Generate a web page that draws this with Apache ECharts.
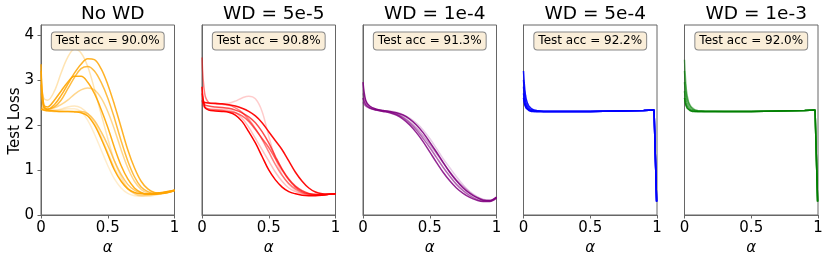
<!DOCTYPE html>
<html>
<head>
<meta charset="utf-8">
<script src="https://cdn.jsdelivr.net/npm/echarts@6/dist/echarts.min.js"></script>
<style>html,body{margin:0;padding:0;background:#fff}#c{width:830px;height:262px}</style>
</head>
<body>
<div id="c"></div>
<script>
// ---- data ----
const panelTitles = ["No WD", "WD = 5e-5", "WD = 1e-4", "WD = 5e-4", "WD = 1e-3"];
const testAcc = ["Test acc = 90.0%", "Test acc = 90.8%", "Test acc = 91.3%", "Test acc = 92.2%", "Test acc = 92.0%"];
const xTicks = [0, 0.5, 1];
const yTicks = [0, 1, 2, 3, 4];

// alpha grid for smooth panels
const alphaA = [0, 0.02, 0.05, 0.1, 0.15, 0.2, 0.25, 0.3, 0.35, 0.4, 0.45, 0.5, 0.55, 0.6, 0.65, 0.7, 0.75, 0.8, 0.85, 0.9, 0.95, 1.0];
// alpha grid for the sharp panels
const alphaB = [0, 0.005, 0.01, 0.015, 0.02, 0.03, 0.04, 0.05, 0.06, 0.08, 0.1, 0.15, 0.3, 0.5, 0.7, 0.9, 0.978, 0.997];

// No WD (orange)
const noWD_1 = [3.0, 2.6, 2.55, 2.75, 3.15, 3.5, 3.68, 3.6, 3.3, 2.8, 2.25, 1.7, 1.2, 0.85, 0.6, 0.47, 0.42, 0.42, 0.44, 0.47, 0.5, 0.53];
const noWD_2 = [2.9, 2.4, 2.35, 2.45, 2.65, 2.9, 3.15, 3.35, 3.47, 3.45, 3.25, 2.9, 2.45, 1.95, 1.45, 1.05, 0.75, 0.58, 0.5, 0.48, 0.5, 0.55];
const noWD_3 = [3.2, 2.45, 2.35, 2.4, 2.55, 2.8, 3.05, 3.25, 3.3, 3.2, 2.95, 2.6, 2.15, 1.65, 1.2, 0.85, 0.62, 0.52, 0.48, 0.48, 0.5, 0.55];
const noWD_4 = [3.35, 2.45, 2.4, 2.55, 2.75, 2.95, 3.08, 3.08, 2.95, 2.7, 2.35, 1.95, 1.5, 1.1, 0.8, 0.6, 0.5, 0.46, 0.46, 0.48, 0.51, 0.55];
const noWD_5 = [2.7, 2.4, 2.35, 2.38, 2.45, 2.55, 2.68, 2.78, 2.82, 2.78, 2.6, 2.3, 1.9, 1.45, 1.05, 0.75, 0.57, 0.49, 0.47, 0.48, 0.5, 0.54];
const noWD_6 = [2.35, 2.33, 2.32, 2.31, 2.3, 2.3, 2.29, 2.27, 2.2, 2.0, 1.7, 1.35, 1.0, 0.75, 0.58, 0.5, 0.47, 0.47, 0.48, 0.5, 0.52, 0.55];
const noWD_7 = [2.5, 2.35, 2.33, 2.33, 2.35, 2.4, 2.42, 2.38, 2.25, 2.05, 1.75, 1.4, 1.05, 0.78, 0.58, 0.48, 0.44, 0.44, 0.46, 0.49, 0.51, 0.54];
const noWD_8 = [2.4, 2.33, 2.31, 2.3, 2.3, 2.3, 2.3, 2.3, 2.25, 2.1, 1.85, 1.55, 1.2, 0.9, 0.68, 0.55, 0.48, 0.46, 0.47, 0.49, 0.52, 0.55];
const noWD_9 = [2.45, 2.35, 2.33, 2.32, 2.33, 2.36, 2.36, 2.3, 2.1, 1.8, 1.45, 1.1, 0.8, 0.6, 0.48, 0.43, 0.42, 0.44, 0.46, 0.49, 0.51, 0.54];

// WD = 5e-5 (red)
const wd5e5_1 = [2.85, 2.4, 2.33, 2.31, 2.3, 2.28, 2.22, 2.08, 1.85, 1.6, 1.3, 1.0, 0.78, 0.62, 0.52, 0.47, 0.44, 0.43, 0.43, 0.44, 0.46, 0.47];
const wd5e5_2 = [2.5, 2.5, 2.49, 2.48, 2.47, 2.45, 2.42, 2.37, 2.3, 2.2, 2.05, 1.85, 1.65, 1.45, 1.2, 0.95, 0.75, 0.6, 0.51, 0.47, 0.46, 0.47];
const wd5e5_3 = [2.6, 2.5, 2.48, 2.47, 2.47, 2.48, 2.53, 2.6, 2.64, 2.58, 2.3, 1.75, 1.25, 0.9, 0.68, 0.55, 0.48, 0.45, 0.44, 0.45, 0.46, 0.47];
const wd5e5_4 = [3.5, 2.7, 2.5, 2.47, 2.46, 2.44, 2.38, 2.28, 2.12, 1.92, 1.68, 1.4, 1.12, 0.88, 0.7, 0.58, 0.5, 0.46, 0.45, 0.45, 0.46, 0.47];
const wd5e5_5 = [2.55, 2.4, 2.35, 2.33, 2.32, 2.3, 2.27, 2.2, 2.08, 1.9, 1.7, 1.5, 1.25, 1.0, 0.78, 0.62, 0.52, 0.47, 0.45, 0.45, 0.46, 0.47];
const wd5e5_6 = [2.45, 2.38, 2.36, 2.35, 2.35, 2.33, 2.28, 2.15, 1.95, 1.7, 1.45, 1.2, 0.95, 0.75, 0.6, 0.52, 0.47, 0.45, 0.44, 0.45, 0.46, 0.47];
const wd5e5_7 = [2.7, 2.45, 2.42, 2.4, 2.39, 2.37, 2.33, 2.27, 2.18, 2.05, 1.85, 1.6, 1.3, 1.02, 0.8, 0.64, 0.54, 0.48, 0.46, 0.45, 0.46, 0.47];

// WD = 1e-4 (purple)
const wd1e4_1 = [2.95, 2.55, 2.42, 2.35, 2.32, 2.3, 2.27, 2.22, 2.13, 2.0, 1.83, 1.62, 1.4, 1.17, 0.95, 0.76, 0.6, 0.48, 0.39, 0.33, 0.32, 0.4];
const wd1e4_2 = [2.6, 2.45, 2.38, 2.33, 2.3, 2.27, 2.22, 2.13, 2.0, 1.83, 1.63, 1.4, 1.17, 0.95, 0.76, 0.6, 0.48, 0.39, 0.33, 0.3, 0.3, 0.38];
const wd1e4_3 = [2.7, 2.5, 2.4, 2.34, 2.31, 2.29, 2.25, 2.18, 2.07, 1.93, 1.76, 1.57, 1.37, 1.16, 0.96, 0.78, 0.63, 0.5, 0.4, 0.34, 0.32, 0.39];
const wd1e4_4 = [2.5, 2.42, 2.37, 2.33, 2.31, 2.29, 2.24, 2.16, 2.04, 1.89, 1.7, 1.5, 1.28, 1.06, 0.86, 0.68, 0.54, 0.43, 0.35, 0.31, 0.31, 0.39];
const wd1e4_5 = [2.8, 2.52, 2.41, 2.35, 2.32, 2.31, 2.28, 2.23, 2.15, 2.04, 1.89, 1.7, 1.48, 1.25, 1.05, 0.85, 0.67, 0.52, 0.42, 0.35, 0.33, 0.4];

// WD = 5e-4 (blue)
const wd5e4_1 = [3.2, 2.95, 2.78, 2.66, 2.58, 2.48, 2.42, 2.38, 2.36, 2.33, 2.32, 2.3, 2.3, 2.3, 2.31, 2.32, 2.33, 0.3];
const wd5e4_2 = [3.0, 2.8, 2.66, 2.56, 2.5, 2.42, 2.38, 2.35, 2.34, 2.32, 2.31, 2.3, 2.3, 2.3, 2.31, 2.32, 2.33, 0.3];
const wd5e4_3 = [2.85, 2.68, 2.57, 2.49, 2.44, 2.38, 2.35, 2.33, 2.32, 2.31, 2.3, 2.3, 2.3, 2.3, 2.31, 2.32, 2.33, 0.3];
const wd5e4_4 = [2.7, 2.58, 2.5, 2.44, 2.4, 2.36, 2.33, 2.32, 2.31, 2.3, 2.3, 2.3, 2.3, 2.3, 2.31, 2.32, 2.33, 0.3];
const wd5e4_5 = [2.6, 2.5, 2.44, 2.4, 2.37, 2.34, 2.32, 2.31, 2.3, 2.3, 2.3, 2.3, 2.3, 2.3, 2.31, 2.32, 2.33, 0.3];

// WD = 1e-3 (green)
const wd1e3_1 = [3.45, 3.15, 2.92, 2.76, 2.65, 2.52, 2.45, 2.4, 2.37, 2.33, 2.32, 2.31, 2.3, 2.3, 2.31, 2.32, 2.33, 0.3];
const wd1e3_2 = [3.2, 2.95, 2.78, 2.66, 2.58, 2.48, 2.42, 2.38, 2.35, 2.33, 2.31, 2.3, 2.3, 2.3, 2.31, 2.32, 2.33, 0.3];
const wd1e3_3 = [2.95, 2.76, 2.63, 2.54, 2.48, 2.41, 2.37, 2.34, 2.33, 2.31, 2.3, 2.3, 2.3, 2.3, 2.31, 2.32, 2.33, 0.3];
const wd1e3_4 = [2.75, 2.6, 2.5, 2.44, 2.4, 2.36, 2.33, 2.32, 2.31, 2.3, 2.3, 2.3, 2.3, 2.3, 2.31, 2.32, 2.33, 0.3];
const wd1e3_5 = [2.6, 2.5, 2.44, 2.4, 2.37, 2.34, 2.32, 2.31, 2.3, 2.3, 2.3, 2.3, 2.3, 2.3, 2.31, 2.32, 2.33, 0.3];

// ---- panels ----
const panels = [
  { color: '#FFA500', xs: alphaA, smooth: true,
    lines: [[noWD_1, 0.3], [noWD_2, 0.85], [noWD_3, 0.75], [noWD_4, 0.9], [noWD_5, 0.45], [noWD_6, 0.95], [noWD_7, 0.25], [noWD_8, 0.6], [noWD_9, 0.2]] },
  { color: '#FF0000', xs: alphaA, smooth: true,
    lines: [[wd5e5_1, 1.0], [wd5e5_2, 0.95], [wd5e5_3, 0.2], [wd5e5_4, 0.5], [wd5e5_5, 0.6], [wd5e5_6, 0.25], [wd5e5_7, 0.7]] },
  { color: '#800080', xs: alphaA, smooth: true,
    lines: [[wd1e4_1, 0.9], [wd1e4_2, 0.85], [wd1e4_3, 0.4], [wd1e4_4, 0.6], [wd1e4_5, 0.2]] },
  { color: '#0000FF', xs: alphaB, smooth: false,
    lines: [[wd5e4_1, 0.9], [wd5e4_2, 0.8], [wd5e4_3, 0.8], [wd5e4_4, 0.9], [wd5e4_5, 1.0]] },
  { color: '#008000', xs: alphaB, smooth: false,
    lines: [[wd1e3_1, 0.5], [wd1e3_2, 0.6], [wd1e3_3, 0.6], [wd1e3_4, 0.7], [wd1e3_5, 0.9]] }
];

const gridLefts = [41, 202, 363, 523.5, 684.5];
const gridW = 133.5, gridTop = 25, gridH = 190;
const frameColor = '#666';
const font = 'DejaVu Sans';

const grids = [], xAxes = [], yAxes = [], series = [], titles = [], graphics = [];
panels.forEach((p, i) => {
  grids.push({ left: gridLefts[i], top: gridTop, width: gridW, height: gridH,
    show: true, borderColor: frameColor, borderWidth: 1, backgroundColor: 'transparent' });
  xAxes.push({ type: 'value', gridIndex: i, min: 0, max: 1, interval: 0.5,
    name: 'α', nameLocation: 'middle', nameGap: 18,
    nameTextStyle: { fontFamily: font, fontSize: 15, fontStyle: 'italic', color: '#000' },
    axisLine: { show: true, lineStyle: { color: frameColor, width: 1 } },
    axisTick: { show: true, inside: false, length: 3.5, lineStyle: { color: frameColor }, customValues: xTicks },
    axisLabel: { fontFamily: font, fontSize: 15, color: '#000', margin: 6, customValues: xTicks,
      formatter: v => (v === 0 ? '0' : v === 1 ? '1' : String(v)) },
    splitLine: { show: false } });
  yAxes.push({ type: 'value', gridIndex: i, min: 0, max: 4.22, interval: 1,
    axisLine: { show: true, lineStyle: { color: frameColor, width: 1 } },
    axisTick: { show: i === 0, inside: false, length: 3.5, lineStyle: { color: frameColor }, customValues: yTicks },
    axisLabel: { show: i === 0, fontFamily: font, fontSize: 15, color: '#000', margin: 7, customValues: yTicks },
    splitLine: { show: false } });
  p.lines.forEach(([vals, op]) => {
    series.push({ type: 'line', xAxisIndex: i, yAxisIndex: i, showSymbol: false, symbol: 'none',
      smooth: p.smooth ? 0.35 : false, silent: true, animation: false,
      lineStyle: { color: p.color, width: 1.5, opacity: op },
      data: p.xs.map((x, k) => [x, vals[k]]) });
  });
  const cx = gridLefts[i] + gridW / 2;
  titles.push({ text: panelTitles[i], left: cx, top: 0, textAlign: 'center',
    textStyle: { fontFamily: font, fontSize: 18.5, fontWeight: 'normal', color: '#000' } });
  graphics.push({ type: 'text', x: cx, y: 41, z: 100,
    style: { text: testAcc[i], align: 'center', verticalAlign: 'middle',
      font: '12px "DejaVu Sans"', fill: '#000',
      backgroundColor: '#FAEED9', borderColor: '#888', borderWidth: 1, borderRadius: 3,
      padding: [3, 4, 2, 4] } });
});
graphics.push({ type: 'text', x: 15, y: 121, rotation: Math.PI / 2,
  style: { text: 'Test Loss', align: 'center', verticalAlign: 'middle', font: '15px "DejaVu Sans"', fill: '#000' } });

const chart = echarts.init(document.getElementById('c'), null, { renderer: 'canvas' });
chart.setOption({
  animation: false,
  title: titles,
  grid: grids, xAxis: xAxes, yAxis: yAxes, series: series,
  graphic: graphics
});
</script>
</body>
</html>
